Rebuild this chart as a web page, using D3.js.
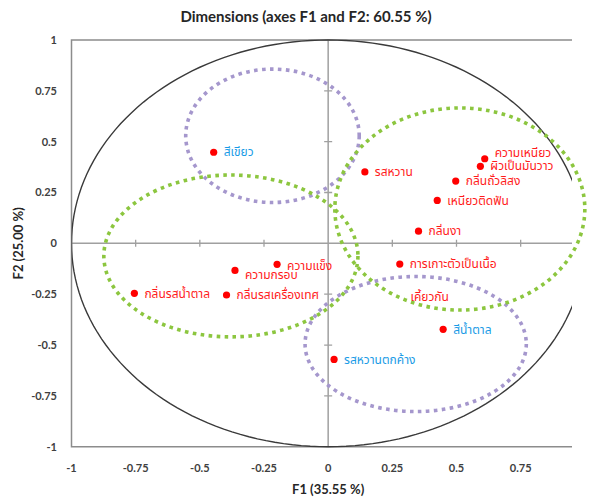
<!DOCTYPE html>
<html><head><meta charset="utf-8">
<script src="https://cdn.jsdelivr.net/npm/d3@7"></script>
<style>
body{margin:0;background:#fff;}
svg{display:block;}
</style></head><body>
<svg id="c" width="589" height="501"></svg>
<script>
// ---- data ----
const labels = ["ความเหนียว","ผิวเป็นมันวาว","กลิ่นถั่วลิสง","รสหวาน","เหนียวติดฟัน","กลิ่นงา","การเกาะตัวเป็นเนื้อ","เคี้ยวกัน","ความแข็ง","ความกรอบ","กลิ่นรสน้ำตาล","กลิ่นรสเครื่องเทศ","สีเขียว","สีน้ำตาล","รสหวานตกค้าง"];
const f1 = [0.610,0.593,0.497,0.143,0.425,0.352,0.279,0.282,-0.199,-0.363,-0.755,-0.396,-0.446,0.448,0.023];
const f2 = [0.416,0.379,0.306,0.351,0.211,0.060,-0.102,-0.263,-0.103,-0.133,-0.246,-0.254,0.448,-0.423,-0.571];
const group = ["attr","attr","attr","attr","attr","attr","attr","attr","attr","attr","attr","attr","color","color","color"];
const markerShown = [1,1,1,1,1,1,1,0,1,1,1,1,1,1,1];

// group ellipses (centre F1, centre F2, radius F1, radius F2)
const ellCx = [-0.217, 0.341, -0.379, 0.513];
const ellCy = [0.529, -0.495, -0.062, 0.169];
const ellRx = [0.338, 0.431, 0.495, 0.487];
const ellRy = [0.328, 0.332, 0.398, 0.497];
const ellKind = ["purple","purple","green","green"];

const xTicks = [-1,-0.75,-0.5,-0.25,0,0.25,0.5,0.75];
const xTickLabels = ["-1","-0.75","-0.5","-0.25","0","0.25","0.5","0.75"];
const yTicks = [1,0.75,0.5,0.25,0,-0.25,-0.5,-0.75,-1];
const yTickLabels = ["1","0.75","0.5","0.25","0","-0.25","-0.5","-0.75","-1"];

const title = "Dimensions (axes F1 and F2: 60.55 %)";
const xTitle = "F1 (35.55 %)";
const yTitle = "F2 (25.00 %)";

// ---- layout ----
const labelShiftY = {"ความเหนียว": -6, "ความแข็ง": 2, "ความกรอบ": 4};

// ---- drawing ----
const svg = d3.select("#c");
const x = d3.scaleLinear().domain([-1, 0.95]).range([71.5, 572]);
const y = d3.scaleLinear().domain([-1, 1]).range([446.7, 40]);
const [x0,x1] = x.range(), [y0,y1] = [y(1), y(-1)];

const defs = svg.append("defs");
defs.append("clipPath").attr("id","plotclip").append("rect")
  .attr("x",x0).attr("y",y0-2).attr("width",x1-x0).attr("height",y1-y0+4);

const uiFont = "Lato, 'Open Sans', sans-serif";
const thaiFont = "Tahoma, 'Noto Sans Thai', 'Noto Sans', sans-serif";

// border: left, top, bottom
const borderCol = "#8c8c8c";
svg.append("path").attr("d",`M${x1},${y0}H${x0}V${y1}H${x1}`)
  .attr("fill","none").attr("stroke",borderCol).attr("stroke-width",1.5);

const plot = svg.append("g").attr("clip-path","url(#plotclip)");
// zero axes
plot.append("line").attr("x1",x0).attr("x2",x1).attr("y1",y(0)).attr("y2",y(0))
  .attr("stroke","#a0a0a0").attr("stroke-width",1.5);
plot.append("line").attr("x1",x(0)).attr("x2",x(0)).attr("y1",y0).attr("y2",y1)
  .attr("stroke","#a0a0a0").attr("stroke-width",1.5);
// cross ticks on zero axes
xTicks.filter(d=>d!==0 && d!==-1).forEach(d=>{
  plot.append("line").attr("x1",x(d)).attr("x2",x(d)).attr("y1",y(0)-3.5).attr("y2",y(0)+3.5)
   .attr("stroke","#a0a0a0").attr("stroke-width",1.3);
});
yTicks.filter(d=>d!==0 && Math.abs(d)!==1).forEach(d=>{
  plot.append("line").attr("x1",x(0)-4).attr("x2",x(0)+4).attr("y1",y(d)).attr("y2",y(d))
   .attr("stroke","#a0a0a0").attr("stroke-width",1.3);
});
// correlation circle
const circ = d3.range(0,361,2).map(a=>[x(Math.cos(a*Math.PI/180)), y(Math.sin(a*Math.PI/180))]);
plot.append("path").attr("d", d3.line()(circ)).attr("fill","none")
  .attr("stroke","#3a3a3a").attr("stroke-width",1.4);

// tick labels
svg.append("g").selectAll("text").data(yTicks).join("text")
  .attr("x",57).attr("y",d=>y(d)).attr("dy","0.35em").attr("text-anchor","end")
  .attr("font-family",uiFont).attr("font-size",11).attr("font-weight","bold").attr("fill","#404040")
  .text((d,i)=>yTickLabels[i]);
svg.append("g").selectAll("text").data(xTicks).join("text")
  .attr("x",d=>x(d)).attr("y",468).attr("dy","0.35em").attr("text-anchor","middle")
  .attr("font-family",uiFont).attr("font-size",11).attr("font-weight","bold").attr("fill","#404040")
  .text((d,i)=>xTickLabels[i]);

// titles
svg.append("text").attr("x",306).attr("y",17).attr("dy","0.35em").attr("text-anchor","middle")
  .attr("font-family",uiFont).attr("font-size",15).attr("font-weight","bold").attr("fill","#262626").text(title);
svg.append("text").attr("x",x(0)).attr("y",489).attr("dy","0.35em").attr("text-anchor","middle")
  .attr("font-family",uiFont).attr("font-size",13).attr("font-weight","bold").attr("fill","#262626").text(xTitle);
svg.append("text").attr("transform",`translate(18,${y(0)}) rotate(-90)`).attr("dy","0.35em").attr("text-anchor","middle")
  .attr("font-family",uiFont).attr("font-size",13).attr("font-weight","bold").attr("fill","#262626").text(yTitle);

// group ellipses
const ellColor = {purple:"#a597cd", green:"#8cc63f"};
svg.append("g").selectAll("ellipse").data(d3.range(ellCx.length)).join("ellipse")
  .attr("cx",i=>x(ellCx[i])).attr("cy",i=>y(ellCy[i]))
  .attr("rx",i=>x(ellRx[i])-x(0)).attr("ry",i=>y(0)-y(ellRy[i]))
  .attr("fill","none").attr("stroke",i=>ellColor[ellKind[i]])
  .attr("stroke-width",3.6).attr("stroke-dasharray","3.6 4.4");

// points and labels
const idx = d3.range(labels.length);
const labColor = {attr:"#ff1a1a", color:"#1a9be6"};
const pts = svg.append("g");
pts.selectAll("circle").data(idx.filter(i=>markerShown[i])).join("circle")
  .attr("cx",i=>x(f1[i])).attr("cy",i=>y(f2[i])).attr("r",3.6).attr("fill","#ff0000");
pts.selectAll("text").data(idx).join("text")
  .attr("x",i=>x(f1[i])+10).attr("y",i=>y(f2[i])+(labelShiftY[labels[i]]||0)).attr("dy","0.35em")
  .attr("font-family",thaiFont).attr("font-size",12).attr("fill",i=>labColor[group[i]])
  .text(i=>labels[i]);
</script>
</body></html>
